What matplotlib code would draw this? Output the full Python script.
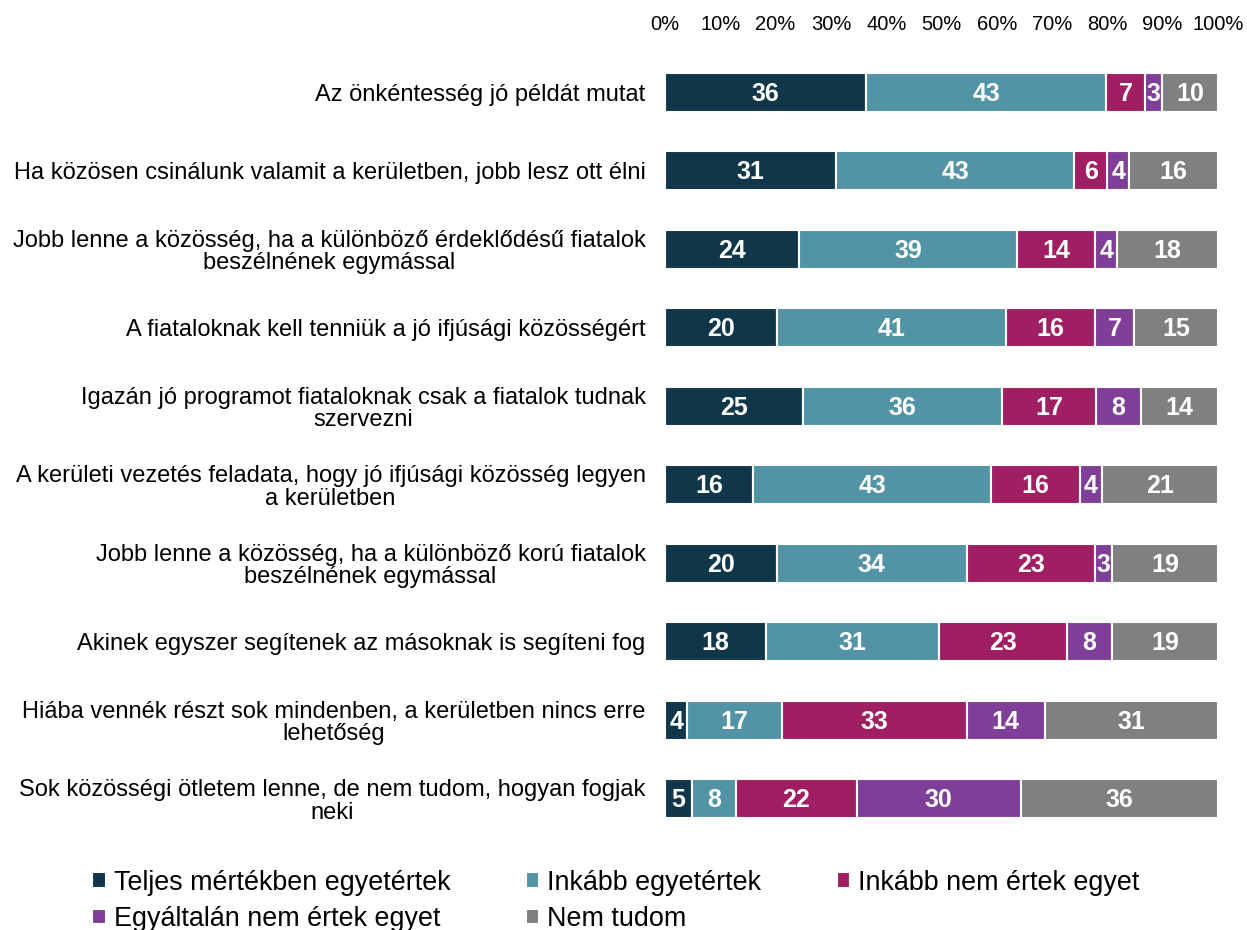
import numpy as np
import matplotlib.pyplot as plt

categories = [
    "Az önkéntesség jó példát mutat",
    "Ha közösen csinálunk valamit a kerületben, jobb lesz ott élni",
    "Jobb lenne a közösség, ha a különböző érdeklődésű fiatalok\nbeszélnének egymással",
    "A fiataloknak kell tenniük a jó ifjúsági közösségért",
    "Igazán jó programot fiataloknak csak a fiatalok tudnak\nszervezni",
    "A kerületi vezetés feladata, hogy jó ifjúsági közösség legyen\na kerületben",
    "Jobb lenne a közösség, ha a különböző korú fiatalok\nbeszélnének egymással",
    "Akinek egyszer segítenek az másoknak is segíteni fog",
    "Hiába vennék részt sok mindenben, a kerületben nincs erre\nlehetőség",
    "Sok közösségi ötletem lenne, de nem tudom, hogyan fogjak\nneki",
]
series_names = ["Teljes mértékben egyetértek", "Inkább egyetértek",
                "Inkább nem értek egyet", "Egyáltalán nem értek egyet", "Nem tudom"]
teljes = [36, 31, 24, 20, 25, 16, 20, 18, 4, 5]
inkabb = [43, 43, 39, 41, 36, 43, 34, 31, 17, 8]
inkabb_nem = [7, 6, 14, 16, 17, 16, 23, 23, 33, 22]
egyaltalan = [3, 4, 4, 7, 8, 4, 3, 8, 14, 30]
nem_tudom = [10, 16, 18, 15, 14, 21, 19, 19, 31, 36]
colors = ["#10364a", "#5294a5", "#a01f62", "#7f3f98", "#808080"]

plt.rcParams['font.family'] = ['Liberation Sans', 'DejaVu Sans']

fig = plt.figure(figsize=(12.47, 9.30), dpi=100)
ax = fig.add_axes([0.5333, 0.099, 0.4434, 0.844])

data = np.array([teljes, inkabb, inkabb_nem, egyaltalan, nem_tudom], dtype=float)
# rounded values don't always add to 100, stretch each row to full width
widths = data / data.sum(axis=0) * 100
y = np.arange(len(categories))
left = np.zeros(len(categories))
handles = []
for vals, w, name, col in zip(data, widths, series_names, colors):
    bars = ax.barh(y, w, left=left, height=0.5, color=col, edgecolor='white',
                   linewidth=1.5, label=name)
    handles.append(bars)
    for yi, v, wi, l in zip(y, vals, w, left):
        ax.text(l + wi / 2, yi + 0.02, f"{int(v)}", ha='center', va='center',
                color='white', fontsize=18, fontweight='bold')
    left += w

ax.set_xlim(0, 100)
ax.set_ylim(len(categories) - 0.5, -0.5)
ax.set_xticks(np.arange(0, 101, 10))
ax.set_xticklabels([f"{t}%" for t in range(0, 101, 10)], fontsize=14.5)
ax.xaxis.tick_top()
ax.tick_params(axis='x', length=0, pad=14)
ax.set_yticks(y)
ax.set_yticklabels(categories, fontsize=17, ha='right', multialignment='center',
                   linespacing=1.02)
ax.tick_params(axis='y', length=0, pad=14)
for s in ax.spines.values():
    s.set_visible(False)

# legend reads row by row: reorder for matplotlib's column filling
order = [0, 3, 1, 4, 2]
fig.legend([handles[i] for i in order], [series_names[i] for i in order],
           loc='upper left', bbox_to_anchor=(0.074, 0.065), ncol=3, fontsize=19.4,
           frameon=False, handlelength=0.5, handleheight=0.5, handletextpad=0.3,
           columnspacing=2.8, labelspacing=0.38, borderpad=0, borderaxespad=0)

fig.savefig("out.png", dpi=100)
